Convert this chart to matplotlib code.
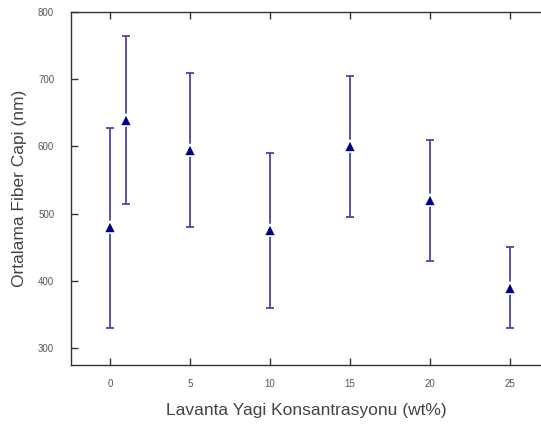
import matplotlib
matplotlib.use("Agg")
import matplotlib.pyplot as plt
import numpy as np

plt.rcParams['font.family'] = ['Liberation Sans', 'DejaVu Sans']

# Lavanta yagi konsantrasyonu (wt%) ve ortalama fiber capi (nm)
konsantrasyon = [0, 1, 5, 10, 15, 20, 25]
ortalama = [480, 640, 595, 475, 600, 520, 390]
alt_sinir = [330, 515, 480, 360, 495, 430, 330]
ust_sinir = [628, 765, 710, 590, 705, 610, 450]
yticks = [300, 400, 500, 600, 700, 800]
xticks = [0, 5, 10, 15, 20, 25]

ortalama = np.array(ortalama)
yerr = [ortalama - np.array(alt_sinir), np.array(ust_sinir) - ortalama]

fig = plt.figure(figsize=(5.41, 4.30), dpi=100)
ax = fig.add_axes([0.131, 0.151, 0.869, 0.821])

ax.errorbar(konsantrasyon, ortalama, yerr=yerr, fmt='none', ecolor='#3a3aa8',
            elinewidth=1.2, capsize=3, capthick=1.2, zorder=2)
ax.plot(konsantrasyon, ortalama, linestyle='none', marker='^', markersize=9,
        color='#000080', markeredgecolor='white', markeredgewidth=1.2, zorder=3)

ax.set_xlim(-2.44, 26.94)
ax.set_ylim(274.8, 800)
ax.set_xticks(xticks)
ax.set_yticks(yticks)
ax.spines['right'].set_visible(False)
for s in ['left', 'top', 'bottom']:
    ax.spines[s].set_color('#333333')
    ax.spines[s].set_linewidth(1.0)
ax.tick_params(axis='x', direction='in', top=True, length=5, width=1.0,
               color='#333333', labelsize=7, labelcolor='#555555', pad=10)
ax.tick_params(axis='y', direction='in', length=5, width=1.0,
               color='#333333', labelsize=7, labelcolor='#555555', pad=12)

ax.set_xlabel('Lavanta Yagi Konsantrasyonu (wt%)', fontsize=12.5,
              color='#444444', labelpad=10)
ax.set_ylabel('Ortalama Fiber Capi (nm)', fontsize=12.5, color='#444444',
              labelpad=8)

fig.savefig('out.png', dpi=100)
